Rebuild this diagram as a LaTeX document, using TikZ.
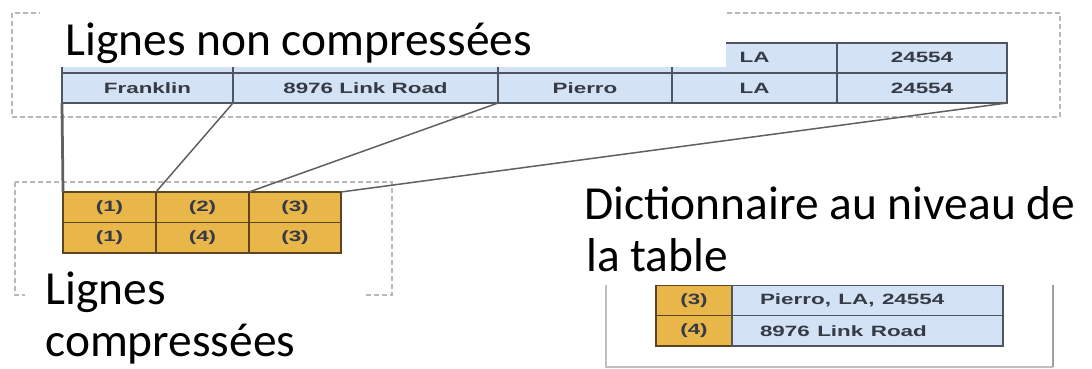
\documentclass[tikz,border=0pt]{standalone}
\usepackage{fontspec}
\usepackage{graphicx}
\usetikzlibrary{positioning}
\newfontfamily\lblfont{Carlito}
\newfontfamily\cellfont{Liberation Sans}
\definecolor{cellblue}{HTML}{D3E3F5}
\definecolor{cellgold}{HTML}{E9B64A}
\definecolor{bordgray}{HTML}{50555F}
\definecolor{bordbrown}{HTML}{5C4520}
\definecolor{celltext}{HTML}{353A45}
\newcommand\celltxt[1]{\scalebox{1.5}[1]{#1}}

\begin{document}
\begin{tikzpicture}[x=0.2mm, y=-0.2mm,
  cell/.style={draw, line width=0.35mm, inner sep=0pt, outer sep=0pt, anchor=north west,
    font=\cellfont\bfseries\fontsize{8.5}{10}\selectfont, text=celltext},
  bluecell/.style={cell, fill=cellblue, draw=bordgray, minimum height=5.9mm},
  goldcell/.style={cell, fill=cellgold, draw=bordbrown, minimum height=6.1mm},
  frame/.style={gray!55, line width=0.3mm, dash pattern=on 1mm off 0.6mm},
  link/.style={gray!75!black, line width=0.3mm},
  lbl/.style={font=\lblfont\fontsize{27}{32}\selectfont, inner sep=0pt, anchor=base west}]
  \useasboundingbox (0,0) rectangle (1092,369);
  % dashed frames
  \draw[frame] (12,13) rectangle (1060,117);
  \draw[frame] (15,182) rectangle (392,295);
  % dictionary frame
  \draw[gray!50, line width=0.4mm] (606,200) -- (606,367) -- (1053,367);
  \draw[gray!75, line width=0.45mm] (1053,200) -- (1053,367);
  % uncompressed rows
  \foreach \x/\w/\c/\t in {62/171/1/{}, 233/265/2/{}, 498/174/3/{}, 672/165/4/LA, 837/170/5/24554}
    \node[bluecell, minimum width=\w*0.2mm] (u1\c) at (\x,43) {\celltxt{\t}};
  \foreach \x/\w/\c/\t in {62/171/1/Franklin, 233/265/2/8976 Link Road, 498/174/3/Pierro,
                           672/165/4/LA, 837/170/5/24554}
    \node[bluecell, minimum width=\w*0.2mm] (u2\c) at (\x,73.5) {\celltxt{\t}};
  % compressed rows
  \foreach \x/\w/\c/\t/\s in {63/93/1/1/1, 156/93/2/2/4, 249/92/3/3/3}{
    \node[goldcell, minimum width=\w*0.2mm] (c1\c) at (\x,192) {\celltxt{(\t)}};
    \node[goldcell, minimum width=\w*0.2mm] (c2\c) at (\x,222.5) {\celltxt{(\s)}};
  }
  % dictionary
  \foreach \r/\y/\k/\v in {1/285/3/{Pierro, LA, 24554}, 2/315.5/4/8976 Link Road}{
    \node[goldcell, minimum width=76*0.2mm] (dk\r) at (656,\y) {\celltxt{(\k)}};
    \node[bluecell, minimum height=6.1mm, minimum width=54.2mm, text width=43mm,
          inner xsep=5.6mm, align=left] (dv\r) at (732,\y) {\celltxt{\v}};
  }
  % links
  \draw[link, line width=0.55mm] (u21.south west) -- (c11.north west);
  \draw[link] (u22.south west) -- (c12.north west);
  \draw[link] (u23.south west) -- (c13.north west);
  \draw[link] (u25.south east) -- (c13.north east);
  % label backgrounds
  \fill[white] (40,0) rectangle (726,67);
  \fill[white] (25,265) rectangle (363,369);
  \fill[white] (575,175) rectangle (1092,285);
  % labels
  \node[lbl] (lblunc) at (65,56) {Lignes non compressées};
  \node[lbl] (lblcompa) at (45,305) {Lignes};
  \node[lbl] (lblcompb) at (45,357) {compressées};
  \node[lbl] (lbldicta) at (584,220) {Dictionnaire au niveau de};
  \node[lbl] (lbldictb) at (586,272) {la table};
\end{tikzpicture}
\end{document}
